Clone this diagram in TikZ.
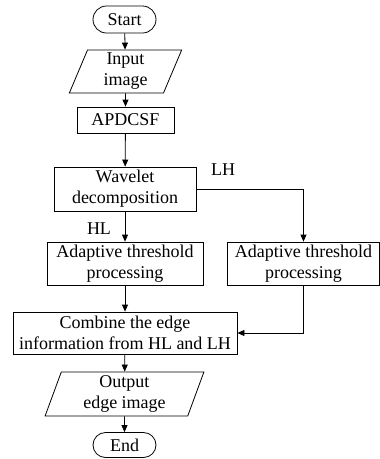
\documentclass[tikz,border=0pt]{standalone}
\usepackage{fontspec}
\setmainfont{Liberation Serif}
\usepackage{tikz}
\usetikzlibrary{shapes.geometric}
\usetikzlibrary{shapes.misc}
\usetikzlibrary{arrows.meta}

\tikzset{
  term/.style={draw, rounded rectangle, minimum width=63pt, minimum height=27pt, inner sep=0pt},
  io/.style={draw, trapezium, trapezium stretches=true, trapezium left angle=74, trapezium right angle=106, minimum height=43pt, inner sep=0pt, align=center},
  proc/.style={draw, rectangle, minimum height=43pt, inner sep=0pt, align=center},
  flow/.style={-{Triangle[length=7pt,width=6pt]}}
}

\begin{document}
\begin{tikzpicture}[x=1pt, y=-1pt, line width=0.8pt, font=\fontsize{18}{21}\selectfont]

\useasboundingbox (0,0) rectangle (380,459);

\node[term] (start) at (124.5,19.5) {Start};
\node[io, minimum width=113pt] (input) at (125.5,71.5) {Input\\image};
\node[proc, minimum width=97pt, minimum height=26pt] (apd) at (125.5,120) {APDCSF};
\node[proc, minimum width=142pt, minimum height=44pt] (wave) at (125,189) {Wavelet\\decomposition};

\node[proc, minimum width=156pt] (thl) at (125,263.5) {Adaptive threshold\\processing};
\node[proc, minimum width=152pt] (tlh) at (303.5,263.5) {Adaptive threshold\\processing};

\node[proc, minimum width=224pt, minimum height=42pt] (comb) at (125,333) {Combine the edge\\information from HL and LH};
\node[io, minimum width=159pt, minimum height=44pt] (output) at (124.5,394) {Output\\edge image};
\node[term, minimum height=25pt] (end) at (124.5,445) {End};

\node (lh) at (223,170) {LH};
\node (hl) at (99,229) {HL};

\draw[flow] (start) -- (input);
\draw[flow] (input) -- (apd);
\draw[flow] (apd) -- (wave);
\draw[flow] (wave) -- (thl);
\draw[flow] (wave.east) -| (tlh.north);
\draw[flow] (thl) -- (comb);
\draw[flow] (tlh.south) |- (comb.east);
\draw[flow] (comb) -- (output);
\draw[flow] (output) -- (end);

\end{tikzpicture}
\end{document}
